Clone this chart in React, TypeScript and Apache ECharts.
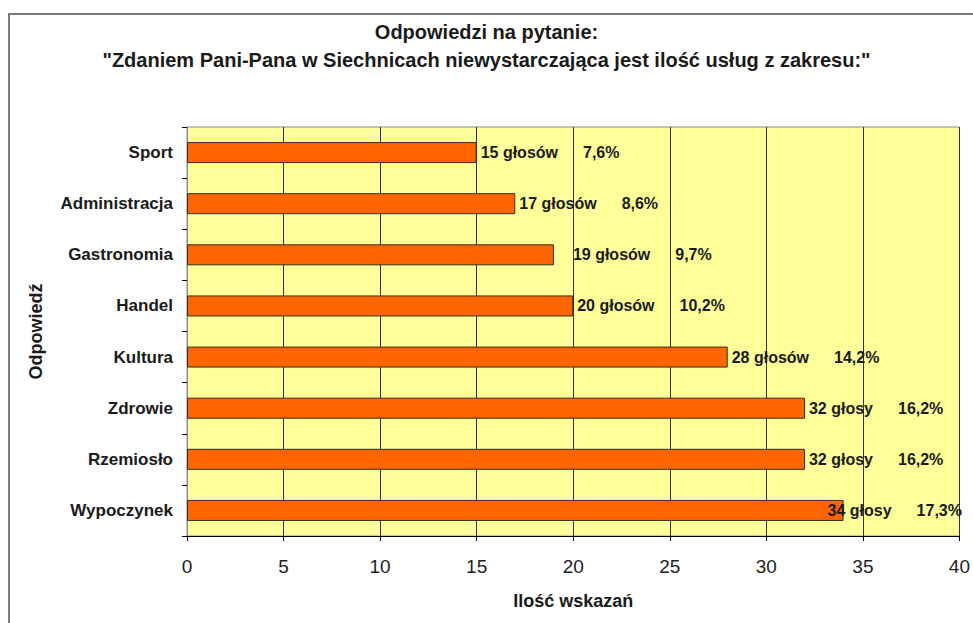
import React, { useEffect, useRef } from "react";
import * as echarts from "echarts";

const titleLine1 = "Odpowiedzi na pytanie:";
const titleLine2 = '"Zdaniem Pani-Pana w Siechnicach niewystarczająca jest ilość usług z zakresu:"';
const categories = ["Sport", "Administracja", "Gastronomia", "Handel", "Kultura", "Zdrowie", "Rzemiosło", "Wypoczynek"];
const votes = [15, 17, 19, 20, 28, 32, 32, 34];
const voteLabels = ["15 głosów", "17 głosów", "19 głosów", "20 głosów", "28 głosów", "32 głosy", "32 głosy", "34 głosy"];
const percentLabels = ["7,6%", "8,6%", "9,7%", "10,2%", "14,2%", "16,2%", "16,2%", "17,3%"];
const xAxisName = "Ilość wskazań";
const yAxisName = "Odpowiedź";

const FONT = "'Liberation Sans', Arial, Helvetica, sans-serif";

export default function App() {
  const ref = useRef<HTMLDivElement>(null);
  useEffect(() => {
    if (!ref.current) return;
    const chart = echarts.init(ref.current, null, { renderer: "svg" });
    // label nudges as in the original (Gastronomia shifted right, Wypoczynek overlapping its bar end)
    const labelNudge: Record<number, number> = { 2: 15, 7: -20 };
    const seriesData = votes.map((v, i) =>
      labelNudge[i] !== undefined ? { value: v, label: { offset: [labelNudge[i], 0] } } : v
    );
    chart.setOption({
      animation: false,
      backgroundColor: "#ffffff",
      title: {
        text: titleLine1 + "\n" + titleLine2,
        left: "center",
        top: 13,
        textStyle: { fontFamily: FONT, fontSize: 20, fontWeight: "bold", color: "#1a1a1a", lineHeight: 28 },
      },
      graphic: [
        {
          type: "rect",
          shape: { x: 9, y: 14, width: 1000, height: 640 },
          style: { fill: "none", stroke: "#7a7a7a", lineWidth: 2 },
          silent: true,
        },
      ],
      grid: {
        left: 187,
        right: 13,
        top: 127,
        bottom: 87,
        show: true,
        backgroundColor: "#FFFF99",
        borderColor: "#8c8c8c",
        borderWidth: 1,
      },
      xAxis: {
        type: "value",
        min: 0,
        max: 40,
        interval: 5,
        name: xAxisName,
        nameLocation: "middle",
        nameGap: 56,
        nameTextStyle: { fontFamily: FONT, fontSize: 18, fontWeight: "bold", color: "#1a1a1a" },
        axisLine: { show: true, lineStyle: { color: "#000", width: 1 } },
        axisTick: { show: true, length: 5, lineStyle: { color: "#000" } },
        axisLabel: { fontFamily: FONT, fontSize: 19, color: "#222", margin: 21 },
        splitLine: { show: true, lineStyle: { color: "#333", width: 1 } },
      },
      yAxis: {
        type: "category",
        data: categories,
        inverse: true,
        name: yAxisName,
        nameLocation: "middle",
        nameGap: 142,
        nameRotate: 90,
        nameTextStyle: { fontFamily: FONT, fontSize: 18, fontWeight: "bold", color: "#1a1a1a" },
        axisLine: { show: true, lineStyle: { color: "#8c8c8c", width: 1 } },
        axisTick: { show: true, length: 5, alignWithLabel: false, lineStyle: { color: "#000" } },
        axisLabel: { fontFamily: FONT, fontSize: 17, fontWeight: "bold", color: "#1a1a1a", margin: 14 },
      },
      series: [
        {
          type: "bar",
          data: seriesData,
          barWidth: 21,
          itemStyle: { color: "#FF6600", borderColor: "#3a2a1a", borderWidth: 1 },
          label: {
            show: true,
            position: "right",
            distance: 4,
            formatter: (p: any) => `{a|${voteLabels[p.dataIndex]}}{b|${percentLabels[p.dataIndex]}}`,
            rich: {
              a: { fontFamily: FONT, fontSize: 16, fontWeight: "bold", color: "#1a1a1a" },
              b: { fontFamily: FONT, fontSize: 16, fontWeight: "bold", color: "#1a1a1a", padding: [0, 0, 0, 25] },
            },
          },
        },
      ],
    });
    return () => chart.dispose();
  }, []);
  return <div ref={ref} style={{ position: "absolute", left: 0, top: 0, width: 973, height: 623 }} />;
}
